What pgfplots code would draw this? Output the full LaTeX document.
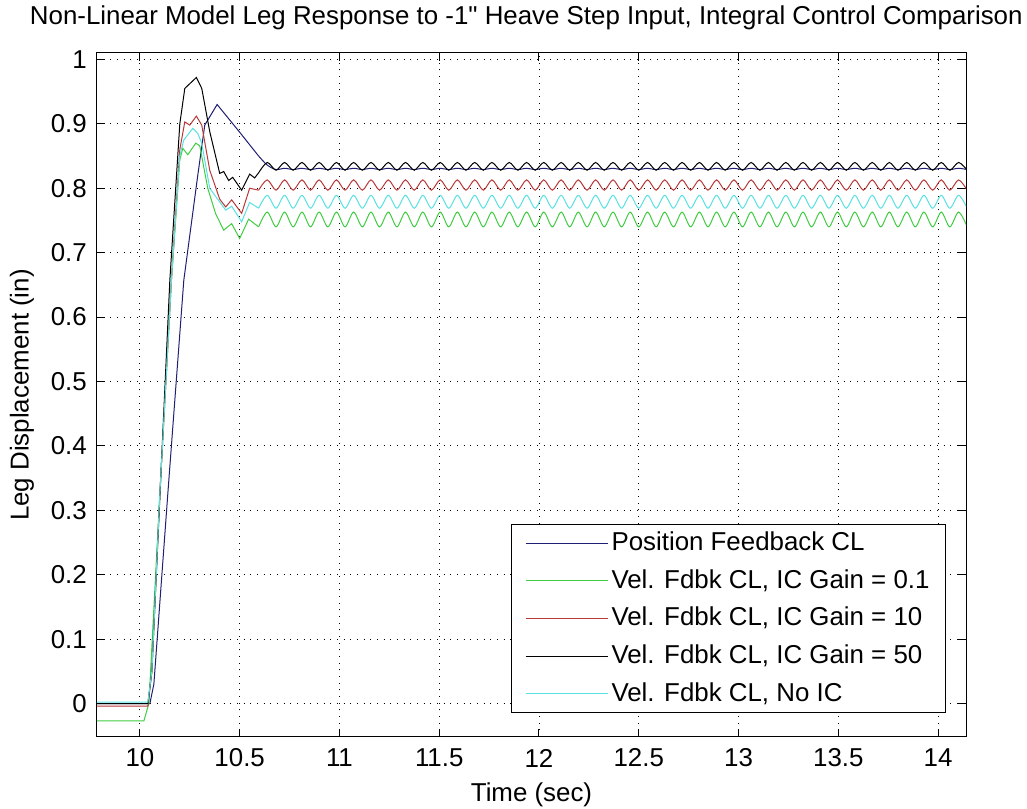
\documentclass[border=0pt]{standalone}
\usepackage{fontspec}
\setmainfont{Liberation Sans}[Ligatures=TeXOff]
\usepackage{pgfplots}
\usepackage{pgfplotstable}
\pgfplotsset{compat=1.18}

\definecolor{cblue}{rgb}{0.12,0.12,0.45}
\definecolor{cgreen}{rgb}{0.25,0.80,0.25}
\definecolor{cred}{rgb}{0.72,0.22,0.22}
\definecolor{ccyan}{rgb}{0.35,0.88,0.88}

% steady-state oscillation (troughs / peaks), columns: t, blue, green, red, black, cyan
\pgfplotstableread{
t blue green red black cyan
10.595 0.850 0.740 0.797 0.824 0.769
10.638 0.836 0.763 0.813 0.840 0.789
10.682 0.829 0.740 0.797 0.828 0.769
10.725 0.831 0.763 0.813 0.840 0.789
10.768 0.829 0.740 0.797 0.828 0.769
10.812 0.831 0.763 0.813 0.840 0.789
10.855 0.829 0.740 0.797 0.828 0.769
10.898 0.831 0.763 0.813 0.840 0.789
10.942 0.829 0.740 0.797 0.828 0.769
10.985 0.831 0.763 0.813 0.840 0.789
11.028 0.829 0.740 0.797 0.828 0.769
11.071 0.831 0.763 0.813 0.840 0.789
11.115 0.829 0.740 0.797 0.828 0.769
11.158 0.831 0.763 0.813 0.840 0.789
11.201 0.829 0.740 0.797 0.828 0.769
11.245 0.831 0.763 0.813 0.840 0.789
11.288 0.829 0.740 0.797 0.828 0.769
11.331 0.831 0.763 0.813 0.840 0.789
11.375 0.829 0.740 0.797 0.828 0.769
11.418 0.831 0.763 0.813 0.840 0.789
11.461 0.829 0.740 0.797 0.828 0.769
11.505 0.831 0.763 0.813 0.840 0.789
11.548 0.829 0.740 0.797 0.828 0.769
11.591 0.831 0.763 0.813 0.840 0.789
11.634 0.829 0.740 0.797 0.828 0.769
11.678 0.831 0.763 0.813 0.840 0.789
11.721 0.829 0.740 0.797 0.828 0.769
11.764 0.831 0.763 0.813 0.840 0.789
11.808 0.829 0.740 0.797 0.828 0.769
11.851 0.831 0.763 0.813 0.840 0.789
11.894 0.829 0.740 0.797 0.828 0.769
11.938 0.831 0.763 0.813 0.840 0.789
11.981 0.829 0.740 0.797 0.828 0.769
12.024 0.831 0.763 0.813 0.840 0.789
12.067 0.829 0.740 0.797 0.828 0.769
12.111 0.831 0.763 0.813 0.840 0.789
12.154 0.829 0.740 0.797 0.828 0.769
12.197 0.831 0.763 0.813 0.840 0.789
12.241 0.829 0.740 0.797 0.828 0.769
12.284 0.831 0.763 0.813 0.840 0.789
12.327 0.829 0.740 0.797 0.828 0.769
12.371 0.831 0.763 0.813 0.840 0.789
12.414 0.829 0.740 0.797 0.828 0.769
12.457 0.831 0.763 0.813 0.840 0.789
12.500 0.829 0.740 0.797 0.828 0.769
12.544 0.831 0.763 0.813 0.840 0.789
12.587 0.829 0.740 0.797 0.828 0.769
12.630 0.831 0.763 0.813 0.840 0.789
12.674 0.829 0.740 0.797 0.828 0.769
12.717 0.831 0.763 0.813 0.840 0.789
12.760 0.829 0.740 0.797 0.828 0.769
12.804 0.831 0.763 0.813 0.840 0.789
12.847 0.829 0.740 0.797 0.828 0.769
12.890 0.831 0.763 0.813 0.840 0.789
12.933 0.829 0.740 0.797 0.828 0.769
12.977 0.831 0.763 0.813 0.840 0.789
13.020 0.829 0.740 0.797 0.828 0.769
13.063 0.831 0.763 0.813 0.840 0.789
13.107 0.829 0.740 0.797 0.828 0.769
13.150 0.831 0.763 0.813 0.840 0.789
13.193 0.829 0.740 0.797 0.828 0.769
13.237 0.831 0.763 0.813 0.840 0.789
13.280 0.829 0.740 0.797 0.828 0.769
13.323 0.831 0.763 0.813 0.840 0.789
13.366 0.829 0.740 0.797 0.828 0.769
13.410 0.831 0.763 0.813 0.840 0.789
13.453 0.829 0.740 0.797 0.828 0.769
13.496 0.831 0.763 0.813 0.840 0.789
13.540 0.829 0.740 0.797 0.828 0.769
13.583 0.831 0.763 0.813 0.840 0.789
13.626 0.829 0.740 0.797 0.828 0.769
13.670 0.831 0.763 0.813 0.840 0.789
13.713 0.829 0.740 0.797 0.828 0.769
13.756 0.831 0.763 0.813 0.840 0.789
13.799 0.829 0.740 0.797 0.828 0.769
13.843 0.831 0.763 0.813 0.840 0.789
13.886 0.829 0.740 0.797 0.828 0.769
13.929 0.831 0.763 0.813 0.840 0.789
13.973 0.829 0.740 0.797 0.828 0.769
14.016 0.831 0.763 0.813 0.840 0.789
14.059 0.829 0.740 0.797 0.828 0.769
14.103 0.831 0.763 0.813 0.840 0.789
14.146 0.829 0.740 0.797 0.828 0.769
}\steady

\begin{document}
\fontsize{19.4}{23}\selectfont
\begin{tikzpicture}
\useasboundingbox (-72.75pt,-54pt) rectangle (697.5pt,552.75pt);
\begin{axis}[
  scale only axis, width=651.75pt, height=513pt,
  anchor=south west, at={(0pt,0pt)},
  xmin=9.785, xmax=14.14, ymin=-0.052, ymax=1.01,
  xtick={10,10.5,11,11.5,12,12.5,13,13.5,14},
  xticklabels={10,10.5,11,11.5,12,12.5,13,13.5,14},
  ytick={0,0.1,0.2,0.3,0.4,0.5,0.6,0.7,0.8,0.9,1},
  yticklabels={0,0.1,0.2,0.3,0.4,0.5,0.6,0.7,0.8,0.9,1},
  tick pos=both, tick align=inside, major tick length=6pt,
  tick style={black, line width=0.75pt},
  axis line style={black, line width=0.75pt},
  grid=major,
  major grid style={black, line width=0.7pt, dash pattern=on 0.8pt off 4.2pt},
  xticklabel style={anchor=center, yshift=-15.75pt},
  yticklabel style={anchor=east, inner sep=0pt, xshift=-7.5pt},
  xlabel={Time (sec)},
  ylabel={Leg Displacement (in)},
  xlabel style={at={(axis description cs:0.5,-0.0848)}, anchor=center},
  ylabel style={at={(axis description cs:-0.0863,0.5)}, anchor=center},
  title={Non-Linear Model Leg Response to -1" Heave Step Input, Integral Control Comparison},
  title style={at={(axis description cs:0.494,1.040)}, anchor=center, font=\fontsize{19.4}{22}\selectfont},
  legend style={at={(axis description cs:1,0)}, anchor=south east,
    xshift=-15pt, yshift=18pt, draw=black, line width=0.75pt, fill=white,
    inner xsep=10pt, inner ysep=3.5pt, row sep=7.3pt},
  legend cell align=left,
  legend image code/.code={\draw[#1] (0pt,0pt) -- (62pt,0pt);},
  every axis plot/.append style={line width=0.75pt},
]
\addplot[cblue, forget plot] coordinates {(9.785,0) (10.05,0) (10.07,0.03) (10.14,0.326) (10.22,0.657) (10.29,0.82) (10.325,0.898) (10.387,0.930) (10.50,0.887) (10.595,0.850)};
\addplot[cblue, smooth, forget plot] table[x=t, y=blue] {\steady};

\addplot[cgreen, forget plot] coordinates {(9.785,-0.027) (10.02,-0.027) (10.045,0.0) (10.10,0.326) (10.158,0.657) (10.20,0.844) (10.215,0.862) (10.24,0.852) (10.28,0.870) (10.30,0.866) (10.34,0.80) (10.38,0.760) (10.42,0.735) (10.46,0.745) (10.50,0.722) (10.545,0.752) (10.595,0.740)};
\addplot[cgreen, smooth, forget plot] table[x=t, y=green] {\steady};

\addplot[cred, forget plot] coordinates {(9.785,-0.004) (10.04,-0.004) (10.06,0.05) (10.10,0.326) (10.158,0.657) (10.20,0.86) (10.225,0.903) (10.25,0.898) (10.283,0.912) (10.31,0.898) (10.35,0.828) (10.40,0.783) (10.43,0.771) (10.46,0.782) (10.51,0.761) (10.55,0.800) (10.595,0.797)};
\addplot[cred, smooth, forget plot] table[x=t, y=red] {\steady};

\addplot[black, forget plot] coordinates {(9.785,0) (10.04,0) (10.06,0.05) (10.15,0.657) (10.20,0.90) (10.225,0.955) (10.283,0.972) (10.31,0.955) (10.35,0.888) (10.40,0.823) (10.42,0.826) (10.445,0.812) (10.465,0.817) (10.51,0.797) (10.55,0.822) (10.575,0.816) (10.595,0.824)};
\addplot[black, smooth, forget plot] table[x=t, y=black] {\steady};

\addplot[ccyan, forget plot] coordinates {(9.785,0.002) (10.04,0.002) (10.06,0.05) (10.10,0.326) (10.158,0.657) (10.20,0.85) (10.22,0.875) (10.265,0.893) (10.29,0.885) (10.31,0.87) (10.35,0.80) (10.43,0.766) (10.46,0.772) (10.51,0.748) (10.55,0.778) (10.595,0.769)};
\addplot[ccyan, smooth, forget plot] table[x=t, y=cyan] {\steady};

\addlegendimage{cblue, line width=0.75pt}
\addlegendentry{Position Feedback CL}
\addlegendimage{cgreen, line width=0.75pt}
\addlegendentry{Vel. Fdbk CL, IC Gain = 0.1}
\addlegendimage{cred, line width=0.75pt}
\addlegendentry{Vel. Fdbk CL, IC Gain = 10}
\addlegendimage{black, line width=0.75pt}
\addlegendentry{Vel. Fdbk CL, IC Gain = 50}
\addlegendimage{ccyan, line width=0.75pt}
\addlegendentry{Vel. Fdbk CL, No IC}
\end{axis}
\end{tikzpicture}
\end{document}
